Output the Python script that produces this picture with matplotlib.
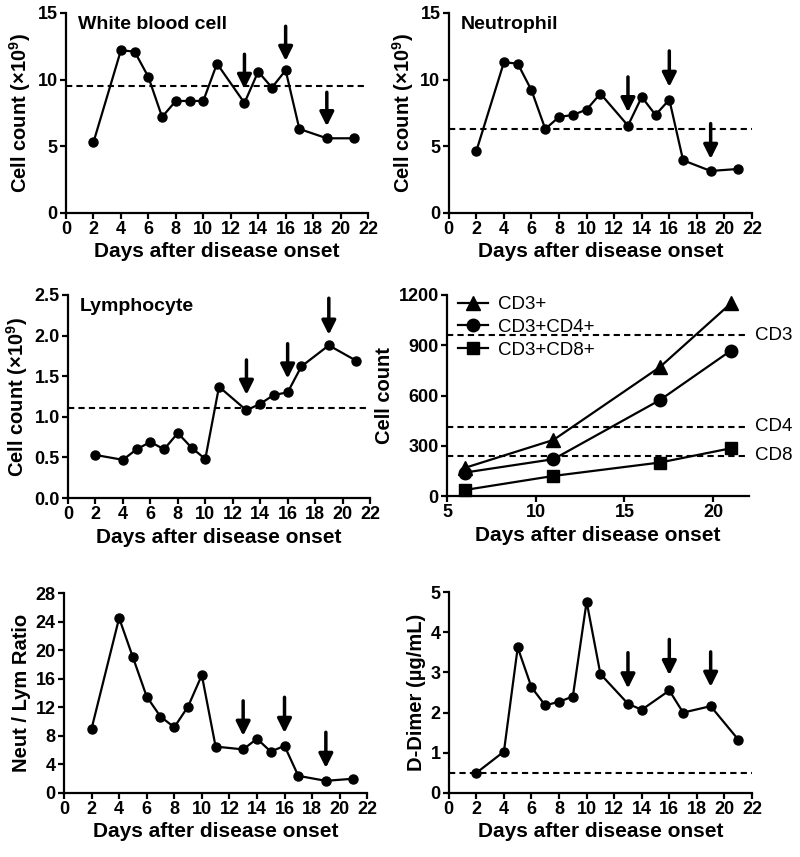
import matplotlib
matplotlib.use("Agg")
import matplotlib.pyplot as plt

plt.rcParams['font.family'] = ['Liberation Sans', 'DejaVu Sans']
plt.rcParams['font.weight'] = 'bold'
plt.rcParams['mathtext.fontset'] = 'custom'
plt.rcParams['mathtext.rm'] = 'Liberation Sans'
plt.rcParams['mathtext.bf'] = 'Liberation Sans:bold'

# ---- data ----
days = [2, 4, 5, 6, 7, 8, 9, 10, 11, 13, 14, 15, 16, 17, 19, 21]
wbc = [5.3, 12.2, 12.1, 10.2, 7.2, 8.4, 8.4, 8.4, 11.2, 8.25, 10.6, 9.4, 10.7, 6.3, 5.6, 5.6]
neut = [4.65, 11.3, 11.2, 9.2, 6.3, 7.2, 7.35, 7.75, 8.95, 6.55, 8.7, 7.35, 8.5, 3.95, 3.15, 3.3]
lym = [0.53, 0.47, 0.6, 0.69, 0.6, 0.8, 0.62, 0.48, 1.37, 1.08, 1.16, 1.27, 1.3, 1.62, 1.88, 1.69]
nlr = [9.0, 24.5, 19.0, 13.5, 10.7, 9.2, 12.1, 16.5, 6.5, 6.1, 7.6, 5.8, 6.6, 2.4, 1.7, 2.0]

dd_days = [2, 4, 5, 6, 7, 8, 9, 10, 11, 13, 14, 16, 17, 19, 21]
ddimer = [0.5, 1.03, 3.62, 2.63, 2.18, 2.27, 2.4, 4.76, 2.96, 2.22, 2.07, 2.55, 2.0, 2.16, 1.33]

cd_days = [6, 11, 17, 21]
cd3 = [168, 335, 770, 1150]
cd4 = [140, 220, 573, 868]
cd8 = [36, 120, 200, 285]
cd_ref = [960, 415, 240]
cd_ref_labels = ['CD3', 'CD4', 'CD8']

wbc_ref, neut_ref, lym_ref, dd_ref = 9.5, 6.3, 1.11, 0.5

# arrows: (top, tip) for days 13, 16, 19
arrow_days = [13, 16, 19]
wbc_arrows = [(11.9, 9.3), (14.0, 11.4), (9.05, 6.5)]
neut_arrows = [(10.2, 7.55), (12.15, 9.45), (6.7, 4.05)]
lym_arrows = [(1.70, 1.27), (1.90, 1.47), (2.46, 2.01)]
nlr_arrows = [(12.9, 8.0), (13.4, 8.4), (8.5, 3.5)]
dd_arrows = [(3.49, 2.6), (3.82, 2.93), (3.51, 2.64)]

xlabel = 'Days after disease onset'
cell_label = r'Cell count (×10$^{\mathbf{9}}$)'

fig = plt.figure(figsize=(8, 8.57), dpi=100)

def style(ax):
    for s in ['top', 'right']:
        ax.spines[s].set_visible(False)
    for s in ['left', 'bottom']:
        ax.spines[s].set_linewidth(1.6)
    ax.tick_params(width=1.6, length=4, labelsize=13, pad=2)
    for t in ax.get_xticklabels() + ax.get_yticklabels():
        t.set_fontweight('bold')
    ax.set_xlabel(xlabel, fontsize=15, fontweight='bold', labelpad=3)

def day_panel(rect, x, y, ymax, yticks, ylab, ref, arrows, title=None, yfmt=None):
    ax = fig.add_axes(rect)
    if ref is not None:
        ax.axhline(ref, color='black', lw=1.5, ls=(0, (3, 2)))
    ax.plot(x, y, color='black', lw=1.6, marker='o', ms=6.5, clip_on=False)
    for d, (top, tip) in zip(arrow_days, arrows):
        ax.annotate('', xy=(d, tip), xytext=(d, top),
                    arrowprops=dict(arrowstyle='-|>', lw=2.5, color='black',
                                    mutation_scale=21, shrinkA=0, shrinkB=0))
    ax.set_xlim(0, 22)
    ax.set_xticks(range(0, 23, 2))
    ax.set_ylim(0, ymax)
    ax.set_yticks(yticks)
    if yfmt:
        ax.set_yticklabels([yfmt % v for v in yticks])
    ax.set_ylabel(ylab, fontsize=14.5, fontweight='bold', labelpad=3)
    if title:
        ax.text(0.04, 0.985, title, transform=ax.transAxes, fontsize=14,
                fontweight='bold', va='top', ha='left')
    style(ax)
    return ax

day_panel([0.0825, 0.7515, 0.3775, 0.2334], days, wbc, 15, [0, 5, 10, 15],
          cell_label, wbc_ref, wbc_arrows, 'White blood cell')
day_panel([0.561, 0.7515, 0.379, 0.2334], days, neut, 15, [0, 5, 10, 15],
          cell_label, neut_ref, neut_arrows, 'Neutrophil')
day_panel([0.085, 0.4189, 0.3775, 0.2369], days, lym, 2.5,
          [0, 0.5, 1.0, 1.5, 2.0, 2.5], cell_label, lym_ref, lym_arrows,
          'Lymphocyte', yfmt='%.1f')
day_panel([0.08, 0.0747, 0.379, 0.2333], days, nlr, 28, list(range(0, 29, 4)),
          'Neut / Lym Ratio', None, nlr_arrows)
day_panel([0.561, 0.0747, 0.379, 0.2345], dd_days, ddimer, 5, [0, 1, 2, 3, 4, 5],
          'D-Dimer (µg/mL)', dd_ref, dd_arrows)

# T cell subsets panel
ax = fig.add_axes([0.5588, 0.4212, 0.377, 0.2346])
for r, lab in zip(cd_ref, cd_ref_labels):
    ax.axhline(r, color='black', lw=1.5, ls=(0, (3, 2)))
    ax.text(1.02, r, lab, transform=ax.get_yaxis_transform(), fontsize=13.5,
            fontweight='normal', va='center', ha='left')
ax.plot(cd_days, cd3, color='black', lw=1.6, marker='^', ms=9.5, label='CD3+', clip_on=False)
ax.plot(cd_days, cd4, color='black', lw=1.6, marker='o', ms=9, label='CD3+CD4+', clip_on=False)
ax.plot(cd_days, cd8, color='black', lw=1.6, marker='s', ms=9, label='CD3+CD8+', clip_on=False)
ax.set_xlim(5, 22)
ax.set_xticks([5, 10, 15, 20])
ax.set_ylim(0, 1200)
ax.set_yticks(range(0, 1201, 300))
ax.set_ylabel('Cell count', fontsize=14.5, fontweight='bold', labelpad=3)
leg = ax.legend(loc='upper left', bbox_to_anchor=(0.0, 1.05), frameon=False,
                prop={'size': 13.5, 'weight': 'normal'}, handlelength=1.6,
                handletextpad=0.5, labelspacing=0.3, borderaxespad=0.2)
style(ax)

fig.savefig('out.png', dpi=100)
